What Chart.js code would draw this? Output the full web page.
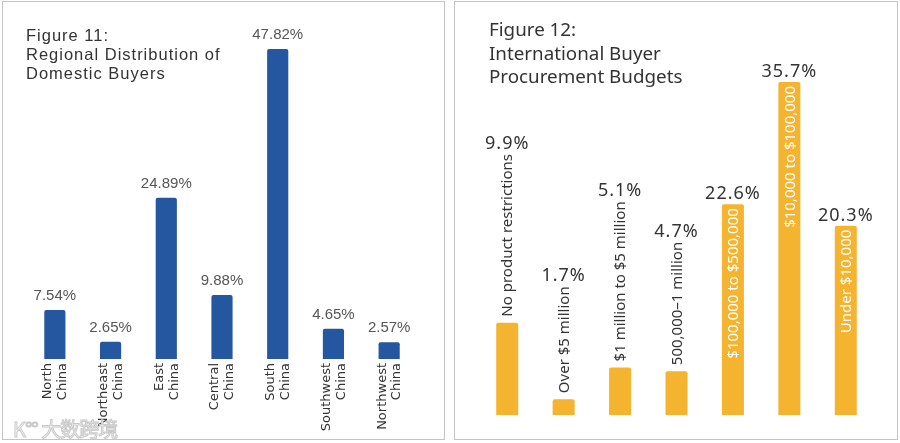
<!DOCTYPE html>
<html>
<head>
<meta charset="utf-8">
<script src="https://cdn.jsdelivr.net/npm/chart.js@4.4.0/dist/chart.umd.min.js"></script>
<style>
  html, body { margin:0; padding:0; background:#fff; }
  body { width:900px; height:443px; position:relative; overflow:hidden; }
  .panel { position:absolute; top:1px; height:439px; border:1px solid #c4c4c4; box-sizing:border-box; background:#fff; }
  #p1 { left:2px; width:443px; }
  #p2 { left:454px; width:444px; }
  .panel canvas { position:absolute; left:0; top:0; }
  .title { position:absolute; color:#333; white-space:nowrap; z-index:2; }
  #t1 { left:23px; top:24px; font:16.5px/19px "Liberation Sans", Arial, sans-serif; letter-spacing:1px; }
  #t2 { left:34px; top:16px; font:18.8px/23.5px "Noto Sans", sans-serif; }
  .wm { position:absolute; left:10px; top:412px; font:20px "Noto Sans CJK SC", sans-serif; color:#fff;
        -webkit-text-stroke:1px #c8c8c8; letter-spacing:-1px; z-index:2; }
</style>
</head>
<body>
<div class="panel" id="p1">
  <div class="title" id="t1">Figure 11:<br>Regional Distribution of<br>Domestic Buyers</div>
  <div class="wm">K°° 大数跨境</div>
  <canvas id="c1" width="441" height="437"></canvas>
</div>
<div class="panel" id="p2">
  <div class="title" id="t2">Figure 12:<br>International Buyer<br>Procurement Budgets</div>
  <canvas id="c2" width="442" height="437"></canvas>
</div>
<script>
/* Figure 11 data */
const regions = [['North','China'],['Northeast','China'],['East','China'],['Central','China'],['South','China'],['Southwest','China'],['Northwest','China']];
const regionShares = [7.54, 2.65, 24.89, 9.88, 47.82, 4.65, 2.57];

/* Figure 12 data */
const budgets = ['No product restrictions','Over $5 million','$1 million to $5 million','500,000–1 million','$100,000 to $500,000','$10,000 to $100,000','Under $10,000'];
const budgetShares = [9.9, 1.7, 5.1, 4.7, 22.6, 35.7, 20.3];

const BLUE = '#2457a0';
const GOLD = '#f4b42f';

/* value labels above bars (and rotated names for fig 12) */
const valueLabels = {
  id: 'valueLabels',
  afterDatasetsDraw(chart, args, opts) {
    const ctx = chart.ctx;
    const meta = chart.getDatasetMeta(0);
    const data = chart.data.datasets[0].data;
    ctx.save();
    ctx.font = opts.font;
    ctx.letterSpacing = opts.spacing || '0px';
    ctx.fillStyle = opts.color;
    ctx.textAlign = 'center';
    ctx.textBaseline = 'alphabetic';
    meta.data.forEach((bar, i) => {
      const txt = data[i].toFixed(opts.decimals) + '%';
      let y = bar.y - opts.gap;
      if (opts.names) {
        // name goes inside the bar if it fits, above it otherwise
        ctx.save();
        ctx.font = opts.nameFont;
        ctx.letterSpacing = '0px';
        const w = ctx.measureText(opts.names[i]).width;
        const h = bar.base - bar.y;
        const inside = w + 10 < h;
        ctx.translate(bar.x, inside ? bar.y + 4 : bar.y - 6);
        ctx.rotate(-Math.PI / 2);
        ctx.textAlign = 'right';
        ctx.textBaseline = 'middle';
        ctx.fillStyle = inside ? '#fff' : '#333';
        ctx.fillText(opts.names[i], inside ? 0 : w, 1);
        ctx.restore();
        if (!inside) y = bar.y - 6 - w - 5;
      }
      ctx.fillText(txt, bar.x, y);
    });
    ctx.restore();
  }
};

new Chart(document.getElementById('c1'), {
  type: 'bar',
  data: { labels: regions, datasets: [{ data: regionShares, backgroundColor: BLUE, borderRadius: 2,
    categoryPercentage: 1, barPercentage: 0.38 }] },
  options: {
    responsive: false, animation: false, devicePixelRatio: 1,
    layout: { padding: { top: 47, left: 24, right: 27, bottom: 0 } },
    plugins: { legend: { display: false }, tooltip: { enabled: false },
      valueLabels: { font: '15px "Liberation Sans", Arial, sans-serif', color: '#555', gap: 10, decimals: 2 } },
    scales: {
      y: { display: false, min: 0, max: Math.max(...regionShares) },
      x: { grid: { display: false, drawTicks: false }, border: { display: false },
        afterFit: s => { s.height = 80; },
        ticks: { autoSkip: false, minRotation: 90, maxRotation: 90, padding: 4, labelOffset: -7, color: '#333',
          font: { family: '"DejaVu Sans", sans-serif', size: 13, lineHeight: 1.15 } } }
    }
  },
  plugins: [valueLabels]
});

new Chart(document.getElementById('c2'), {
  type: 'bar',
  data: { labels: budgets, datasets: [{ data: budgetShares, backgroundColor: GOLD, borderRadius: 2,
    categoryPercentage: 1, barPercentage: 0.39 }] },
  options: {
    responsive: false, animation: false, devicePixelRatio: 1,
    layout: { padding: { top: 80, left: 24, right: 23, bottom: 24 } },
    plugins: { legend: { display: false }, tooltip: { enabled: false },
      valueLabels: { font: '18px "Noto Sans", sans-serif', spacing: '1px', color: '#333', gap: 5, decimals: 1,
        names: budgets, nameFont: '15px "Noto Sans", sans-serif' } },
    scales: {
      y: { display: false, min: 0, max: Math.max(...budgetShares) },
      x: { display: false }
    }
  },
  plugins: [valueLabels]
});
</script>
</body>
</html>
